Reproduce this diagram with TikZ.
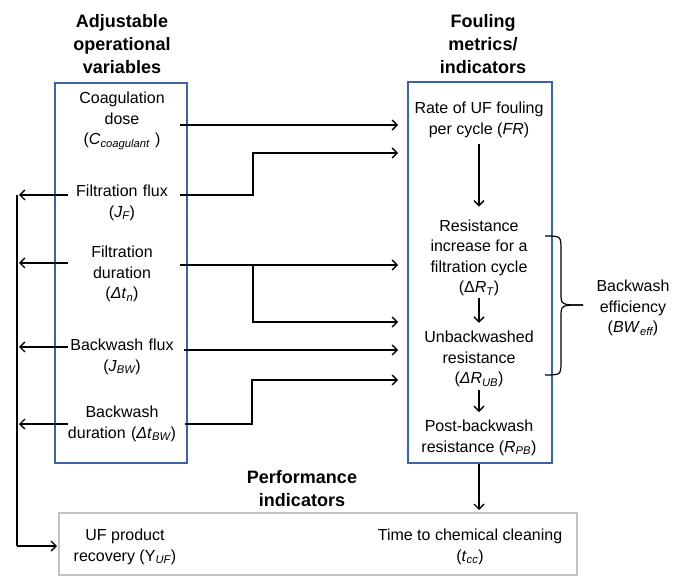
\documentclass[tikz,border=0pt]{standalone}
\usepackage{fontspec}
\setmainfont{Liberation Sans}
\usetikzlibrary{arrows.meta}
\definecolor{boxblue}{RGB}{60,100,160}
\definecolor{boxgray}{RGB}{195,195,195}
\newcommand{\subit}[1]{\textsubscript{\itshape #1}}

\begin{document}
\begin{tikzpicture}[x=1pt,y=-1pt,
  every node/.style={font=\fontsize{16}{20.5}\selectfont, align=center, inner sep=0pt},
  title/.style={font=\bfseries\fontsize{18}{23}\selectfont},
  var/.style={text width=116pt},
  metric/.style={},
  arr/.style={-{Straight Barb[length=5pt,width=10pt]}, line width=1.4pt},
  link/.style={line width=1.4pt}]
  \useasboundingbox (0,0) rectangle (691,577);

  % Boxes
  \node[draw=boxblue, line width=2pt, minimum width=132pt, minimum height=380pt] (lbox) at (121,273) {};
  \node[draw=boxblue, line width=2pt, minimum width=144pt, minimum height=381pt] (rbox) at (480,272.5) {};
  \node[draw=boxgray, line width=2pt, minimum width=518pt, minimum height=62pt] (bbox) at (318,544) {};

  % Titles
  \node[title] (ltitle) at (122,44) {Adjustable\\operational\\variables};
  \node[title] (rtitle) at (483,44) {Fouling\\metrics/\\indicators};
  \node[title] (ptitle) at (302,489) {Performance\\indicators};

  % Operational variables
  \node[var] (coag) at (122,121) {Coagulation\\dose\\(\textit{C}\subit{coagulant} )};
  \node[var] (flux) at (122,203) {Filtration flux\\(\textit{J}\subit{F})};
  \node[var] (fdur) at (122,274) {Filtration\\duration\\(\textit{Δt}\subit{n})};
  \node[var] (bwflux) at (122,357) {Backwash flux\\(\textit{J}\subit{BW})};
  \node[var] (bwdur) at (122,424) {Backwash\\duration (\textit{Δt}\subit{BW})};

  % Fouling metrics
  \node[metric] (fr) at (479,120) {Rate of UF fouling\\per cycle (\textit{FR})};
  \node[metric] (rt) at (479,258) {Resistance\\increase for a\\filtration cycle\\(Δ\textit{R}\subit{T})};
  \node[metric] (rub) at (479,359) {Unbackwashed\\resistance\\(\textit{ΔR}\subit{UB})};
  \node[metric] (rpb) at (479,438) {Post-backwash\\resistance (\textit{R}\subit{PB})};

  % Performance indicators
  \node (uf) at (125,547) {UF product\\recovery (Y\subit{UF})};
  \node (tcc) at (470,547) {Time to chemical cleaning\\(\textit{t}\subit{cc})};

  % Backwash efficiency
  \node (bw) at (633,308) {Backwash\\efficiency\\(\textit{BW}\subit{eff})};

  % Elbow points
  \coordinate (j1) at (253,153);
  \coordinate (j2) at (253,265);
  \coordinate (j3) at (253,322);
  \coordinate (j4) at (252,380);
  \coordinate (ftop) at (17,195);
  \coordinate (fbot) at (17,546);

  % Variables to fouling metrics
  \draw[arr, shorten >=9pt] ([yshift=-4pt]coag.east) -- ([yshift=-4pt]coag.east -| rbox.west);
  \draw[arr, shorten >=9pt] ([yshift=8pt]flux.east) -| (j1) -- (j1 -| rbox.west);
  \draw[arr, shorten >=9pt] ([yshift=9pt]fdur.east) -- ([yshift=9pt]fdur.east -| rbox.west);
  \draw[arr, shorten >=9pt] (j2) -- (j3) -- (j3 -| rbox.west);
  \draw[arr, shorten >=9pt] ([yshift=7pt,xshift=4pt]bwflux.east) -- ([yshift=7pt]bwflux.east -| rbox.west);
  \draw[arr, shorten >=9pt] ([xshift=5pt]bwdur.east) -| (j4) -- (j4 -| rbox.west);

  % Variables to recovery
  \draw[link] (ftop) -- (fbot);
  \draw[arr, shorten >=2pt] ([yshift=8pt,xshift=4pt]flux.west) -- ([yshift=8pt]flux.west -| ftop);
  \draw[arr, shorten >=2pt] ([yshift=11pt,xshift=4pt]fdur.west) -- ([yshift=11pt]fdur.west -| ftop);
  \draw[arr, shorten >=2pt] ([yshift=10pt,xshift=4pt]bwflux.west) -- ([yshift=10pt]bwflux.west -| ftop);
  \draw[arr, shorten >=2pt] ([xshift=4pt]bwdur.west) -- (bwdur.west -| ftop);
  \draw[arr, shorten >=1pt] (fbot) -- (fbot -| bbox.west);

  % Metric chain
  \draw[arr, shorten <=6pt, shorten >=13pt] (fr.south) -- (fr.south |- rt.north);
  \draw[arr, shorten <=2pt, shorten >=8pt] (rt.south) -- (rt.south |- rub.north);
  \draw[arr, shorten <=3pt, shorten >=8pt] (rub.south) -- (rub.south |- rpb.north);
  \draw[arr, shorten >=2pt] (rpb.south |- rbox.south) -- (rpb.south |- bbox.north);

  % Brace
  \coordinate (btop) at (545,236);
  \coordinate (bbot) at (545,375);
  \coordinate (btip) at (583,305);
  \draw[line width=1.2pt] (btop) .. controls (561,236) .. (561,250) -- (561,293) .. controls (561,305) .. (btip);
  \draw[line width=1.2pt] (bbot) .. controls (561,375) .. (561,361) -- (561,317) .. controls (561,305) .. (btip);
\end{tikzpicture}
\end{document}
